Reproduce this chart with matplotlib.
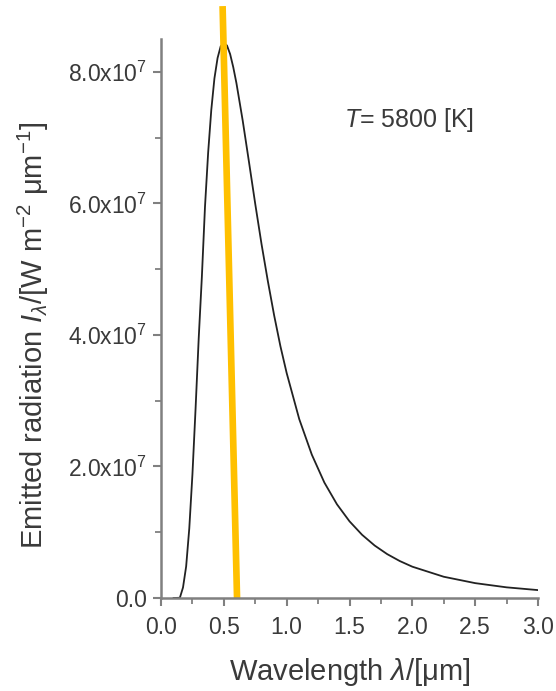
import numpy as np
import matplotlib as mpl
mpl.use('Agg')
import matplotlib.pyplot as plt
from matplotlib.ticker import MultipleLocator, FuncFormatter

# Blackbody curve (wavelength in um, emitted radiation in 1e7 W m^-2 um^-1)
wavelength = [0.10, 0.15, 0.175, 0.20, 0.225, 0.25, 0.275, 0.30, 0.325, 0.35, 0.375,
              0.40, 0.425, 0.45, 0.475, 0.50, 0.525, 0.55, 0.575, 0.60, 0.65, 0.70,
              0.75, 0.80, 0.85, 0.90, 0.95, 1.0, 1.1, 1.2, 1.3, 1.4, 1.5, 1.6, 1.7,
              1.8, 1.9, 2.0, 2.25, 2.5, 2.75, 3.0]
radiation = [0.0, 0.003, 0.16, 0.48, 1.06, 1.88, 2.88, 3.95, 4.88, 5.95, 6.77,
             7.42, 7.90, 8.21, 8.39, 8.44, 8.40, 8.27, 8.07, 7.83, 7.26, 6.63,
             5.99, 5.38, 4.82, 4.30, 3.83, 3.42, 2.72, 2.18, 1.755, 1.425, 1.166, 0.961, 0.798,
             0.667, 0.562, 0.476, 0.323, 0.226, 0.162, 0.120]
radiation = [v * 1e7 for v in radiation]

# Orange marker line (endpoints)
marker_x = [0.49, 0.605]
marker_y = [9.0e7, 0.0]

temperature = 5800

plt.rcParams['font.family'] = ['Liberation Sans', 'DejaVu Sans']
plt.rcParams['mathtext.fontset'] = 'custom'
plt.rcParams['mathtext.rm'] = 'Liberation Sans'
plt.rcParams['mathtext.it'] = 'Liberation Sans:italic'

text_col = '#3a3a3a'
spine_col = '#808080'

fig = plt.figure(figsize=(5.56, 6.91), dpi=100)
ax = fig.add_axes([0.2896, 0.1346, 0.678, 0.809])

ax.plot(wavelength, radiation, color='#222222', lw=1.3)
ax.plot(marker_x, marker_y, color='#FFC000', lw=4.8, clip_on=False, solid_capstyle='butt')

ax.set_xlim(0, 3.0)
ax.set_ylim(0, 8.5e7)

ax.xaxis.set_major_locator(MultipleLocator(0.5))
ax.xaxis.set_minor_locator(MultipleLocator(0.25))
ax.yaxis.set_major_locator(MultipleLocator(2e7))
ax.yaxis.set_minor_locator(MultipleLocator(1e7))

def yfmt(v, pos):
    if v == 0:
        return '0.0'
    return r'%.1fx10$^{7}$' % (v / 1e7)

ax.yaxis.set_major_formatter(FuncFormatter(yfmt))
ax.xaxis.set_major_formatter(FuncFormatter(lambda v, p: '%.1f' % v))

for s in ['top', 'right']:
    ax.spines[s].set_visible(False)
for s in ['left', 'bottom']:
    ax.spines[s].set_color(spine_col)
    ax.spines[s].set_linewidth(1.8)

ax.tick_params(which='major', direction='out', length=6, width=1.5, color=spine_col,
               labelsize=16.5, labelcolor=text_col, pad=4)
ax.tick_params(axis='x', which='major', pad=7)
ax.tick_params(which='minor', direction='out', length=4, width=1.3, color=spine_col)

ax.set_xlabel(r'Wavelength $\it{\lambda}$/[μm]', fontsize=21, color=text_col, labelpad=12)
ax.set_ylabel(r'Emitted radiation $\it{I}_{\lambda}$/[W m$^{-2}$ μm$^{-1}$]',
              fontsize=21, color=text_col)
ax.yaxis.set_label_coords(-0.292, 0.47)

ax.text(1.46, 7.27e7, r'$\it{T}$= %d [K]' % temperature, fontsize=18, color=text_col,
        ha='left', va='center')

plt.savefig('out.png', dpi=100)
